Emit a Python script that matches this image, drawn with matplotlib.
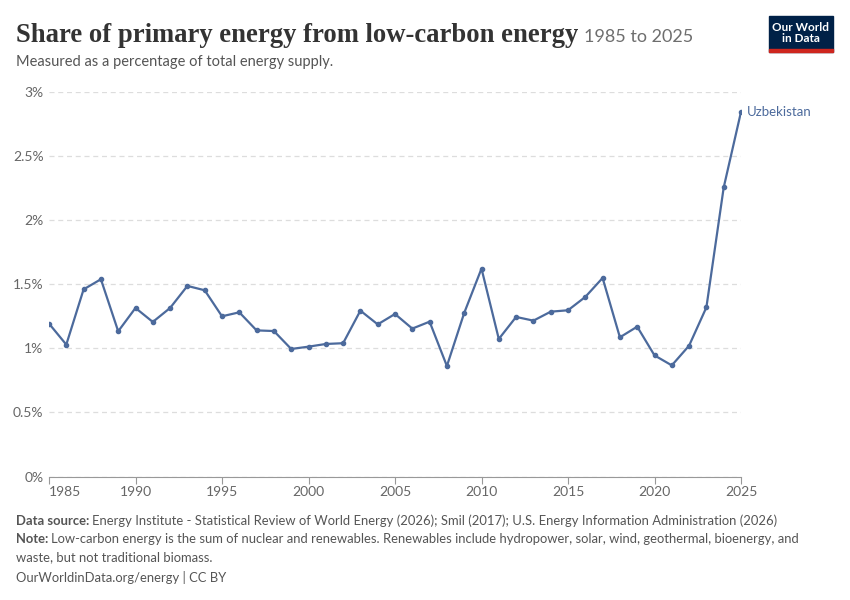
import matplotlib
matplotlib.use("Agg")
import matplotlib.pyplot as plt
from matplotlib.patches import Rectangle

years = list(range(1985, 2026))
share = [1.193, 1.029, 1.46, 1.539, 1.133, 1.315, 1.206, 1.315, 1.487, 1.453,
         1.25, 1.281, 1.14, 1.135, 0.995, 1.013, 1.034, 1.04, 1.294, 1.187,
         1.268, 1.154, 1.208, 0.862, 1.276, 1.622, 1.073, 1.245, 1.216, 1.286,
         1.297, 1.401, 1.549, 1.086, 1.169, 0.945, 0.867, 1.021, 1.32, 2.255,
         2.845]
country = "Uzbekistan"
yticks = [0, 0.5, 1, 1.5, 2, 2.5, 3]
ytick_labels = ["0%", "0.5%", "1%", "1.5%", "2%", "2.5%", "3%"]
xticks = [1985, 1990, 1995, 2000, 2005, 2010, 2015, 2020, 2025]

W, H = 850, 600
fig = plt.figure(figsize=(W / 100, H / 100), dpi=100)
fig.patch.set_facecolor("white")

sans = ["Lato", "DejaVu Sans"]
line_color = "#4c6a9c"
grey = "#666666"

ax = fig.add_axes([49 / W, 1 - 476.5 / H, (741 - 49) / W, (476.5 - 92) / H])
ax.plot(years, share, color=line_color, lw=1.6, marker="o", ms=3, zorder=3)
ax.set_xlim(1985, 2025)
ax.set_ylim(0, 3)
ax.set_yticks(yticks)
ax.set_yticklabels(ytick_labels, family=sans, fontsize=10, color=grey)
ax.set_xticks(xticks)
ax.set_xticklabels([str(x) for x in xticks], family=sans, fontsize=10, color=grey)
ax.get_xticklabels()[0].set_horizontalalignment("left")
ax.tick_params(axis="y", length=0, pad=4)
ax.tick_params(axis="x", length=5, color="#999999", pad=2)
for s in ["top", "right", "left"]:
    ax.spines[s].set_visible(False)
ax.spines["bottom"].set_color("#999999")
ax.grid(axis="y", color="#dddddd", linestyle=(0, (4, 3)), lw=0.9)
ax.set_axisbelow(True)
ax.patch.set_alpha(0)

ax.annotate(country, xy=(years[-1], share[-1]), xytext=(4, 0),
            textcoords="offset points", va="center", ha="left",
            color=line_color, fontsize=9.5, family=sans, annotation_clip=False)

# Title
t = fig.text(16 / W, 1 - 42 / H, "Share of primary energy from low-carbon energy",
             family=["Liberation Serif", "DejaVu Serif"], fontweight="bold",
             fontsize=19.2, color="#333333", va="baseline")
fig.canvas.draw()
r = fig.canvas.get_renderer()
bb = t.get_window_extent(r)
fig.text((bb.x1 + 6) / W, 1 - 42 / H, "1985 to 2025", family=sans, fontsize=13,
         color="#6e6e6e", va="baseline")
fig.text(16 / W, 1 - 66 / H, "Measured as a percentage of total energy supply.",
         family=sans, fontsize=10.5, color="#555555", va="baseline")

# Logo
fig.patches.append(Rectangle((769 / W, 1 - 52 / H), 64 / W, 36 / H,
                             transform=fig.transFigure, color="#002147", zorder=5))
fig.patches.append(Rectangle((769 / W, 1 - 52 / H), 64 / W, 3 / H,
                             transform=fig.transFigure, color="#ce261e", zorder=6))
fig.text(801 / W, 1 - 33 / H, "Our World\nin Data", ha="center", va="center",
         color="white", fontsize=8.5, family=sans, fontweight="bold",
         linespacing=1.0, zorder=7)

# Footer
FS = 9.35
def two_part(y, bold, rest):
    tb = fig.text(16 / W, 1 - y / H, bold, family=sans, fontweight="bold",
                  fontsize=FS, color="#555555", va="baseline")
    fig.canvas.draw()
    b = tb.get_window_extent(fig.canvas.get_renderer())
    fig.text((b.x1 + 3) / W, 1 - y / H, rest, family=sans, fontsize=FS,
             color="#555555", va="baseline")

two_part(525, "Data source:",
         "Energy Institute - Statistical Review of World Energy (2026); Smil (2017); U.S. Energy Information Administration (2026)")
two_part(543, "Note:",
         "Low-carbon energy is the sum of nuclear and renewables. Renewables include hydropower, solar, wind, geothermal, bioenergy, and")
fig.text(16 / W, 1 - 561 / H, "waste, but not traditional biomass.", family=sans,
         fontsize=FS, color="#555555", va="baseline")
fig.text(16 / W, 1 - 582 / H, "OurWorldinData.org/energy | CC BY", family=sans,
         fontsize=FS, color="#555555", va="baseline")

fig.savefig("out.png", dpi=100, facecolor="white")
